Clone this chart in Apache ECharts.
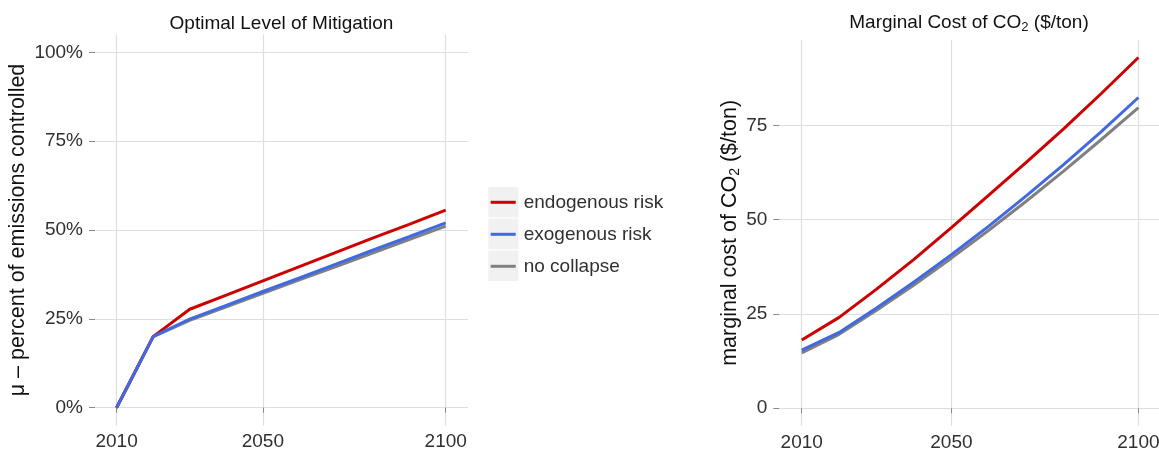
<!DOCTYPE html>
<html>
<head>
<meta charset="utf-8">
<script src="https://cdn.jsdelivr.net/npm/echarts@6/dist/echarts.min.js"></script>
<style>
html,body{margin:0;padding:0;background:#fff;overflow:hidden;}
#chart{width:1159px;height:452px;}
</style>
</head>
<body>
<div id="chart"></div>
<script>
// ---- data ----
const years = [2010, 2020, 2030, 2040, 2050, 2060, 2070, 2080, 2090, 2100];
const seriesNames = ['endogenous risk', 'exogenous risk', 'no collapse'];
const muEndogenous = [0, 0.20, 0.277, 0.317, 0.357, 0.397, 0.437, 0.477, 0.516, 0.556];
const muExogenous  = [0, 0.20, 0.249, 0.288, 0.327, 0.365, 0.404, 0.443, 0.481, 0.520];
const muNoCollapse = [0, 0.20, 0.246, 0.284, 0.322, 0.360, 0.397, 0.435, 0.473, 0.511];
const costEndogenous = [18.1, 24.1, 31.6, 39.5, 47.9, 56.5, 65.2, 74.1, 83.4, 93.0];
const costExogenous  = [15.4, 20.1, 26.6, 33.5, 40.7, 48.3, 56.3, 64.6, 73.3, 82.4];
const costNoCollapse = [14.7, 19.6, 26.0, 32.7, 39.8, 47.2, 54.9, 62.9, 71.2, 79.7];
const xTicks = [2010, 2050, 2100];
const muTicks = [0, 0.25, 0.5, 0.75, 1.0];
const costTicks = [0, 25, 50, 75];

const colors = {'endogenous risk': '#CC0000', 'exogenous risk': '#4169E1', 'no collapse': '#808080'};
const zOrder = {'endogenous risk': 3, 'exogenous risk': 4, 'no collapse': 2};
const FONT = '"Liberation Sans", Arial, Helvetica, sans-serif';
const GRID = '#dedede';
const TXT = '#303030';

function pairs(vals) { return years.map((y, i) => [y, vals[i]]); }

function mkX(idx, min, max) {
  return {
    type: 'value', gridIndex: idx, min: min, max: max,
    axisLine: {show: false},
    axisTick: {show: true, length: 5, lineStyle: {color: '#8a8a8a', width: 1}, customValues: xTicks},
    axisLabel: {customValues: xTicks, margin: 7, fontSize: 19, color: TXT, fontFamily: FONT,
      formatter: v => String(v)},
    splitLine: {show: true, lineStyle: {color: GRID, width: 1.2}}
  };
}
function mkY(idx, min, max, ticks, fmt, name, nameGap) {
  return {
    type: 'value', gridIndex: idx, min: min, max: max,
    axisLine: {show: false},
    axisTick: {show: true, length: 6, lineStyle: {color: '#8a8a8a', width: 1}, customValues: ticks},
    axisLabel: {customValues: ticks, margin: 12, fontSize: 19, color: TXT, fontFamily: FONT, formatter: fmt},
    splitLine: {show: true, lineStyle: {color: GRID, width: 1.2}},
    name: name, nameLocation: 'middle', nameGap: nameGap,
    nameTextStyle: {fontSize: 21.5, color: '#111', fontFamily: FONT, lineHeight: 24,
      rich: {sub: {fontSize: 14, lineHeight: 14, verticalAlign: 'bottom', fontFamily: FONT, color: '#111'}}}
  };
}
function mkSeries(name, vals, axisIdx) {
  return {
    type: 'line', name: name, xAxisIndex: axisIdx, yAxisIndex: axisIdx,
    data: pairs(vals), showSymbol: false, symbol: 'none', z: zOrder[name],
    lineStyle: {color: colors[name], width: 3}, itemStyle: {color: colors[name]},
    animation: false
  };
}

const chart = echarts.init(document.getElementById('chart'));
chart.setOption({
  animation: false,
  backgroundColor: '#ffffff',
  textStyle: {fontFamily: FONT},
  title: [
    {text: 'Optimal Level of Mitigation', left: 281.5, top: 14, padding: 0, textAlign: 'center',
      textStyle: {fontSize: 19, fontWeight: 'normal', color: '#111', fontFamily: FONT, lineHeight: 19}},
    {text: 'Marginal Cost of CO{sub|2} ($/ton)', left: 969, top: 12, padding: 0, textAlign: 'center',
      textStyle: {fontSize: 19, fontWeight: 'normal', color: '#111', fontFamily: FONT, lineHeight: 22,
        rich: {sub: {fontSize: 13, lineHeight: 13, verticalAlign: 'bottom', color: '#111', fontFamily: FONT}}}}
  ],
  grid: [
    {left: 95, top: 34.5, width: 373, height: 391, containLabel: false, outerBoundsMode: 'none'},
    {left: 779.3, top: 40, width: 379.7, height: 385.8, containLabel: false, outerBoundsMode: 'none'}
  ],
  xAxis: [mkX(0, 2004.1, 2106.1), mkX(1, 2004.0, 2105.5)],
  yAxis: [
    mkY(0, -0.05, 1.05, muTicks, v => Math.round(v * 100) + '%', 'μ – percent of emissions controlled', 63),
    mkY(1, -4.65, 97.65, costTicks, v => String(v), 'marginal cost of CO{sub|2} ($/ton)', 30)
  ],
  legend: {
    data: seriesNames.map(n => ({name: n, icon: 'rect'})),
    orient: 'vertical', left: 490.7, top: 192.3, padding: 0,
    itemWidth: 25, itemHeight: 3, itemGap: 12, z: 5,
    textStyle: {fontSize: 19, color: TXT, fontFamily: FONT, lineHeight: 20, padding: [0, 0, 0, 3]},
    selectedMode: false
  },
  graphic: [
    {type: 'rect', shape: {x: 488.3, y: 187, width: 30, height: 30.5}, style: {fill: '#f1f1f1'}, z: 0, silent: true},
    {type: 'rect', shape: {x: 488.3, y: 218.7, width: 30, height: 30.5}, style: {fill: '#f1f1f1'}, z: 0, silent: true},
    {type: 'rect', shape: {x: 488.3, y: 250.5, width: 30, height: 30.5}, style: {fill: '#f1f1f1'}, z: 0, silent: true}
  ],
  series: [
    mkSeries('no collapse', muNoCollapse, 0),
    mkSeries('endogenous risk', muEndogenous, 0),
    mkSeries('exogenous risk', muExogenous, 0),
    mkSeries('no collapse', costNoCollapse, 1),
    mkSeries('endogenous risk', costEndogenous, 1),
    mkSeries('exogenous risk', costExogenous, 1)
  ]
});
</script>
</body>
</html>
